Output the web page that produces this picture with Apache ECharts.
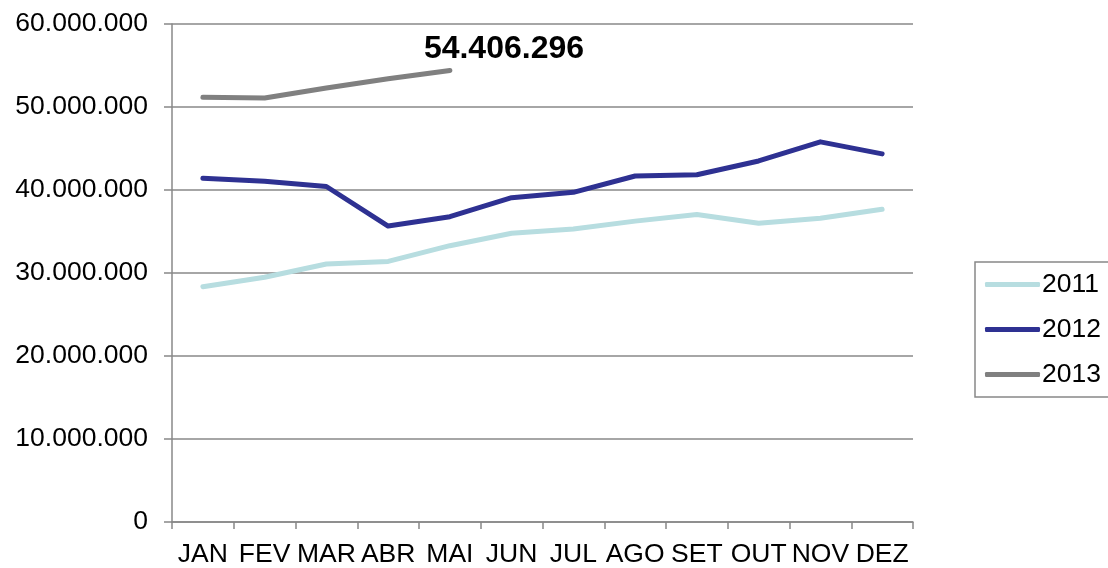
<!DOCTYPE html>
<html>
<head>
<meta charset="utf-8">
<script src="https://cdn.jsdelivr.net/npm/echarts@6/dist/echarts.min.js"></script>
<style>
  html, body { margin: 0; padding: 0; background: #fff; }
  #chart { width: 1108px; height: 568px; }
</style>
</head>
<body>
<div id="chart"></div>
<script>
// meses
const months = ['JAN', 'FEV', 'MAR', 'ABR', 'MAI', 'JUN', 'JUL', 'AGO', 'SET', 'OUT', 'NOV', 'DEZ'];
// valores
const values2011 = [28350000, 29480000, 31080000, 31400000, 33290000, 34780000, 35300000, 36250000, 37050000, 36000000, 36600000, 37670000];
const values2012 = [41420000, 41050000, 40420000, 35660000, 36780000, 39070000, 39720000, 41690000, 41840000, 43500000, 45800000, 44350000];
const values2013 = [51170000, 51080000, 52300000, 53400000, 54406296];
const yTicks = [0, 10000000, 20000000, 30000000, 40000000, 50000000, 60000000];

const fmt = (v) => String(Math.round(v)).replace(/\B(?=(\d{3})+(?!\d))/g, '.');

const chart = echarts.init(document.getElementById('chart'));
const font = 'Liberation Sans, Arial, sans-serif';
const fs = 26.5;

const option = {
  animation: false,
  grid: { left: 172, right: 195, top: 24, bottom: 46 },
  legend: {
    orient: 'vertical',
    left: 975,
    top: 262,
    padding: [9, 10, 9, 10],
    itemWidth: 55,
    itemHeight: 5,
    itemGap: 18,
    icon: 'roundRect',
    borderColor: '#888',
    borderWidth: 1.5,
    textStyle: { fontSize: fs, color: '#000', fontFamily: font, padding: [0, 0, 0, -3] },
    data: ['2011', '2012', '2013']
  },
  xAxis: {
    type: 'category',
    data: months,
    boundaryGap: true,
    axisLine: { lineStyle: { color: '#888', width: 1.5 } },
    axisTick: { show: true, length: 7, interval: 0, lineStyle: { color: '#888', width: 1.5 } },
    axisLabel: { interval: 0, hideOverlap: false, margin: 19, fontSize: fs, color: '#000', fontFamily: font }
  },
  yAxis: {
    type: 'value',
    min: yTicks[0],
    max: yTicks[yTicks.length - 1],
    interval: yTicks[1] - yTicks[0],
    axisLine: { show: true, lineStyle: { color: '#888', width: 1.5 } },
    axisTick: { show: true, length: 8, lineStyle: { color: '#888', width: 1.5 } },
    splitLine: { show: true, lineStyle: { color: '#888', width: 1.5 } },
    axisLabel: { margin: 24, fontSize: fs, color: '#000', fontFamily: font, formatter: fmt }
  },
  series: [
    {
      name: '2011', type: 'line', data: values2011, symbol: 'none',
      color: '#b7dde0', lineStyle: { width: 5, color: '#b7dde0', cap: 'round', join: 'round' }
    },
    {
      name: '2012', type: 'line', data: values2012, symbol: 'none',
      color: '#2e3192', lineStyle: { width: 5, color: '#2e3192', cap: 'round', join: 'round' }
    },
    {
      name: '2013', type: 'line', data: values2013, symbol: 'none',
      color: '#808080', lineStyle: { width: 5, color: '#808080', cap: 'round', join: 'round' },
      endLabel: {
        show: true,
        offset: [-34, -21],
        formatter: (p) => fmt(p.value),
        fontSize: 32,
        fontWeight: 'bold',
        color: '#000',
        fontFamily: font
      }
    }
  ]
};

chart.setOption(option);
</script>
</body>
</html>
